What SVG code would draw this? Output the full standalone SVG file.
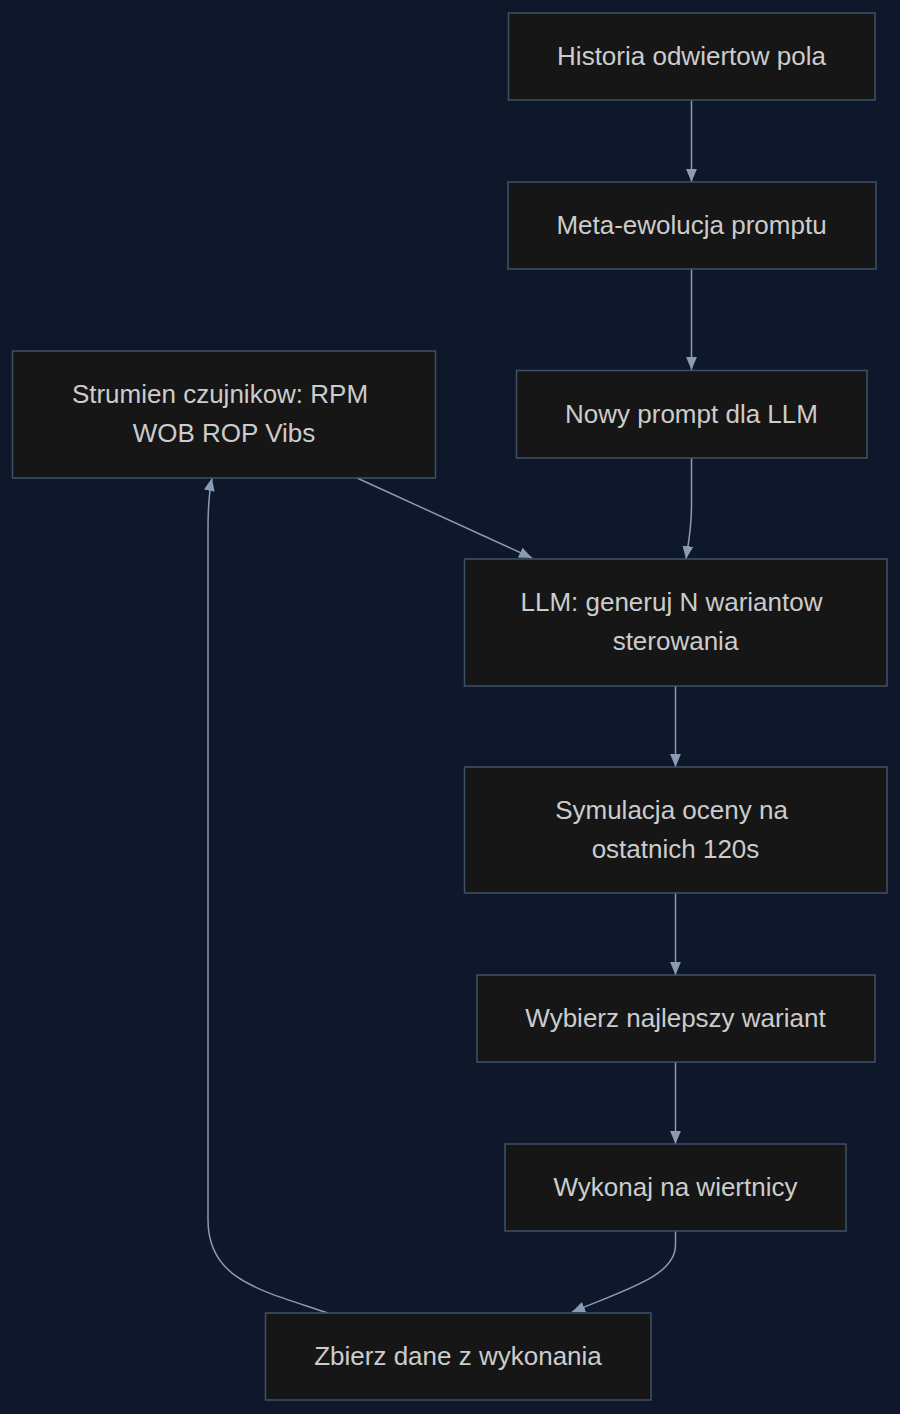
<svg xmlns="http://www.w3.org/2000/svg" width="900" height="1414" viewBox="0 0 900 1414">
<style>
.bg{fill:#0f172a}
.node rect{fill:#161616;stroke:#3f5168;stroke-width:1.5}
.node text{font-family:"Liberation Sans",Arial,sans-serif;font-size:26px;fill:#cccccc;text-anchor:middle}
.edge{fill:none;stroke:#8a9bb3;stroke-width:1.5;marker-end:url(#arr)}
</style>
<defs>
<marker id="arr" viewBox="0 0 12 10" refX="12" refY="5" markerWidth="13" markerHeight="11" markerUnits="userSpaceOnUse" orient="auto">
<path d="M0,0 L12,5 L0,10 z" fill="#8a9bb3"/>
</marker>
</defs>
<rect class="bg" x="0" y="0" width="900" height="1414"/>
<g id="connectors">
<path class="edge" d="M691.5,100 L691.5,182"/>
<path class="edge" d="M691.5,269 L691.5,370"/>
<path class="edge" d="M691.5,458 L691.5,505 C691.5,530 688,545 686,559"/>
<path class="edge" d="M357,478 L532,558"/>
<path class="edge" d="M675.5,686 L675.5,767"/>
<path class="edge" d="M675.5,893 L675.5,975"/>
<path class="edge" d="M675.5,1062 L675.5,1144"/>
<path class="edge" d="M675.5,1231 L675.5,1245 C675.5,1275 630,1288 572,1312"/>
<path class="edge" d="M328,1313 C260,1290 208,1280 208,1220 L208,530 C208,505 209,492 212,478"/>
</g>
<g id="n1" class="node"><rect x="508.5" y="13" width="366.5" height="87"/><text x="691.5" y="65">Historia odwiertow pola</text></g>
<g id="n2" class="node"><rect x="508" y="182" width="368" height="87"/><text x="691.5" y="234">Meta-ewolucja promptu</text></g>
<g id="n3" class="node"><rect x="516.5" y="370.5" width="350.5" height="87.5"/><text x="691.5" y="423">Nowy prompt dla LLM</text></g>
<g id="n4" class="node"><rect x="12.5" y="351" width="423" height="127"/><text x="220" y="403">Strumien czujnikow: RPM</text><text x="224" y="442">WOB ROP Vibs</text></g>
<g id="n5" class="node"><rect x="464.5" y="559" width="422.5" height="127"/><text x="671.5" y="611">LLM: generuj N wariantow</text><text x="675.5" y="650">sterowania</text></g>
<g id="n6" class="node"><rect x="464.5" y="767" width="422.5" height="126"/><text x="671.5" y="819">Symulacja oceny na</text><text x="675.5" y="858">ostatnich 120s</text></g>
<g id="n7" class="node"><rect x="477" y="975" width="398" height="87"/><text x="675.5" y="1027">Wybierz najlepszy wariant</text></g>
<g id="n8" class="node"><rect x="505" y="1144" width="341" height="87"/><text x="675.5" y="1196">Wykonaj na wiertnicy</text></g>
<g id="n9" class="node"><rect x="265.5" y="1313" width="385.5" height="87"/><text x="458" y="1365">Zbierz dane z wykonania</text></g>
</svg>
